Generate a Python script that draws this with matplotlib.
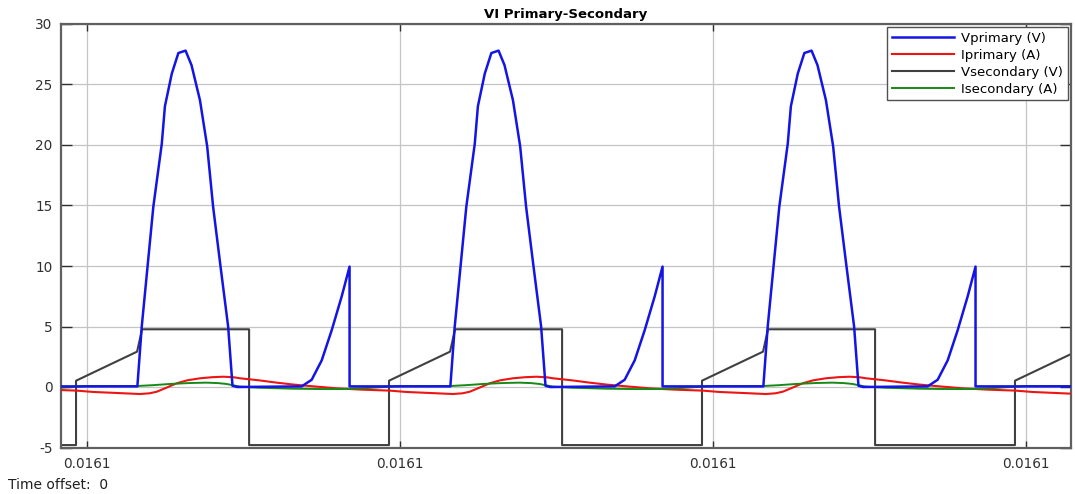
import numpy as np
import matplotlib
matplotlib.use('Agg')
import matplotlib.pyplot as plt
from matplotlib.ticker import FormatStrFormatter

# one switching period, phase in units of the period (10 us)
t_start = 0.0161
period = 1e-5

vprim_phase = [0.161, 0.175, 0.212, 0.239, 0.249, 0.271, 0.292, 0.315, 0.334, 0.361,
               0.384, 0.403, 0.427, 0.451, 0.465, 0.48, 0.686, 0.718, 0.750, 0.782,
               0.814, 0.839, 0.839]
vprim_val = [0.05, 5.0, 14.9, 20.1, 23.2, 25.9, 27.6, 27.8, 26.6, 23.7,
             19.9, 14.9, 9.9, 5.0, 0.1, 0.0, 0.05, 0.6, 2.2, 4.7,
             7.5, 9.95, 0.05]

iprim_phase = [0.02, 0.10, 0.169, 0.20, 0.223, 0.25, 0.287, 0.32, 0.361, 0.40,
               0.436, 0.47, 0.489, 0.55, 0.606, 0.66, 0.712, 0.798, 0.88, 0.968]
iprim_val = [-0.41, -0.50, -0.58, -0.52, -0.39, -0.10, 0.31, 0.55, 0.72, 0.81,
             0.85, 0.80, 0.72, 0.55, 0.36, 0.20, 0.08, -0.11, -0.22, -0.30]

vsec_phase = [-0.035, -0.035, 0.160, 0.176, 0.518, 0.518]
vsec_val = [-4.8, 0.52, 2.92, 4.77, 4.77, -4.8]

isec_phase = [0.0, 0.159, 0.21, 0.265, 0.33, 0.382, 0.42, 0.446, 0.465, 0.489,
              0.55, 0.66, 0.75, 0.818, 0.90, 0.968]
isec_val = [0.08, 0.08, 0.15, 0.25, 0.33, 0.36, 0.32, 0.25, 0.15, 0.03,
            -0.06, -0.14, -0.17, -0.17, -0.08, 0.03]

n_periods = range(-1, 5)
xticks = [0.0161, 0.01611, 0.01612, 0.01613]
yticks = [-5, 0, 5, 10, 15, 20, 25, 30]


def repeat(phase, val):
    ph = np.concatenate([np.array(phase) + k for k in n_periods])
    v = np.tile(val, len(n_periods))
    return t_start + ph * period, v


plt.rcParams['font.family'] = ['DejaVu Sans']
plt.rcParams['axes.unicode_minus'] = False

fig = plt.figure(figsize=(10.75, 4.94), dpi=100)
ax = fig.add_axes([61 / 1075, 1 - 447.5 / 494, 1010 / 1075, 423.5 / 494])

series = [
    (vprim_phase, vprim_val, '#1414e6', 1.8, 'Vprimary (V)', 5),
    (iprim_phase, iprim_val, '#ee1414', 1.5, 'Iprimary (A)', 3),
    (vsec_phase, vsec_val, '#404040', 1.5, 'Vsecondary (V)', 2),
    (isec_phase, isec_val, '#168a16', 1.4, 'Isecondary (A)', 4),
]
for ph, v, c, lw, lab, z in series:
    x, y = repeat(ph, v)
    ax.plot(x, y, color=c, lw=lw, label=lab, zorder=z)

ax.set_xlim(t_start - 0.083 * period, t_start + 3.144 * period)
ax.set_ylim(-5, 30)
ax.set_xticks(xticks)
ax.set_yticks(yticks)
ax.xaxis.set_major_formatter(FormatStrFormatter('%.4f'))
ax.grid(True, color='#c4c4c4', lw=0.9)
ax.set_axisbelow(True)
ax.tick_params(axis='both', direction='in', top=True, right=True, colors='#303030',
               labelsize=9.8, width=1.0)
ax.tick_params(axis='y', length=8, pad=6)
ax.tick_params(axis='x', length=5, pad=7)
for s in ax.spines.values():
    s.set_color('#606060')
    s.set_linewidth(1.6)

ax.set_title('VI Primary-Secondary', fontsize=9.5, fontweight='bold', pad=4)

leg = ax.legend(loc='upper right', fontsize=9.5, handlelength=4.7, handletextpad=0.55,
                labelspacing=0.3, borderpad=0.35, fancybox=False, framealpha=1,
                edgecolor='#505050', borderaxespad=0.25)
leg.get_frame().set_linewidth(1.0)

fig.text(8 / 1075, 1 - 485 / 494, 'Time offset:  0', fontsize=10, va='center',
         ha='left', color='#202020')

fig.savefig('out.png', dpi=100)
